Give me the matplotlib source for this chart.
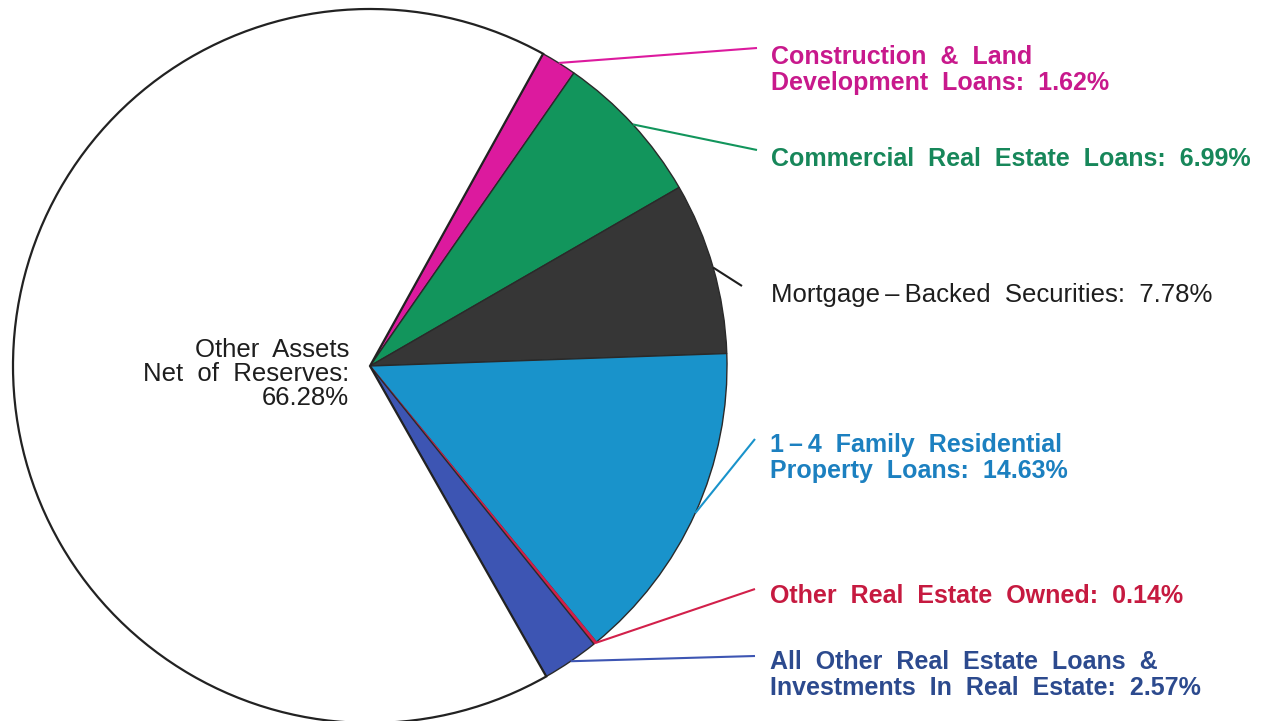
import numpy as np
import matplotlib
matplotlib.use("Agg")
import matplotlib.pyplot as plt

# slices in clockwise order starting at the top edge of the magenta wedge
labels = [
    "Construction  &  Land\nDevelopment  Loans:  1.62%",
    "Commercial  Real  Estate  Loans:  6.99%",
    "Mortgage\u2009\u2013\u2009Backed  Securities:  7.78%",
    "1\u2009\u2013\u20094  Family  Residential\nProperty  Loans:  14.63%",
    "Other  Real  Estate  Owned:  0.14%",
    "All  Other  Real  Estate  Loans  &\nInvestments  In  Real  Estate:  2.57%",
    "Other  Assets\nNet  of  Reserves:\n66.28%",
]
shares = [1.62, 6.99, 7.78, 14.63, 0.14, 2.57, 66.28]
wedge_colors = ["#dc1a9e", "#12955c", "#363636", "#1993cb", "#d2204a", "#3d55b3", "#ffffff"]
text_colors = ["#c8198c", "#17875a", "#1e1e1e", "#1c80c0", "#c61a40", "#2c4a8e", "#1e1e1e"]
weights = ["bold", "bold", "normal", "bold", "bold", "bold", "normal"]

W, H = 1275, 721
cx, cy, r = 370, H - 366, 357

# where each leader line ends (label anchors), pixel coords from top-left
anchors = [(757, 48), (757, 150), (742, 286), (755, 439), (755, 589), (755, 656), None]
text_pos = [(771, 70), (771, 159), (771, 295), (770, 458), (770, 596), (770, 675), (349, 374)]

plt.rcParams["font.family"] = ["Liberation Sans", "DejaVu Sans"]

fig = plt.figure(figsize=(W / 100, H / 100), dpi=100)
ax = fig.add_axes([0, 0, 1, 1])

wedges, _ = ax.pie(
    shares,
    colors=wedge_colors,
    startangle=61,
    counterclock=False,
    center=(cx, cy),
    radius=r,
    wedgeprops=dict(linewidth=1.0, edgecolor="#2a2a2a"),
)
wedges[-1].set_linewidth(1.6)
wedges[-1].set_edgecolor("#222222")
wedges[4].set_edgecolor("#d2204a")

ax.set_xlim(0, W)
ax.set_ylim(0, H)
ax.set_aspect("equal")
ax.axis("off")

for i, w in enumerate(wedges):
    tx, ty = text_pos[i]
    size = 18 if weights[i] == "bold" else 18.5
    if anchors[i] is not None:
        mid = np.deg2rad((w.theta1 + w.theta2) / 2)
        sx, sy = cx + r * np.cos(mid), cy + r * np.sin(mid)
        ex, ey = anchors[i][0], H - anchors[i][1]
        lc = wedge_colors[i] if i != 2 else "#1e1e1e"
        ax.plot([sx, ex], [sy, ey], color=lc, lw=1.5, solid_capstyle="butt")
        ax.text(tx, H - ty, labels[i], color=text_colors[i], fontsize=size,
                fontweight=weights[i], ha="left", va="center", linespacing=1.07)
    else:
        ax.text(tx, H - ty, labels[i], color=text_colors[i], fontsize=size,
                fontweight=weights[i], ha="right", va="center", linespacing=1.02,
                multialignment="right")

fig.savefig("out.png", dpi=100)
